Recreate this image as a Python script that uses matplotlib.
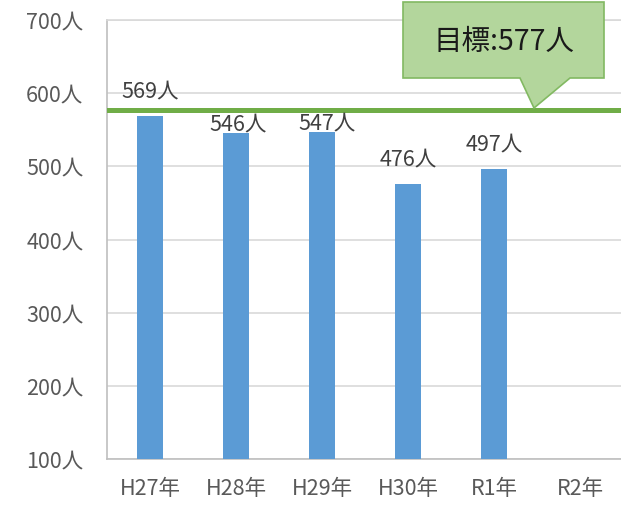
import matplotlib
matplotlib.use("Agg")
import matplotlib.pyplot as plt
from matplotlib.patches import Polygon

plt.rcParams['font.family'] = ['Noto Sans CJK JP', 'DejaVu Sans']

categories = ["H27年", "H28年", "H29年", "H30年", "R1年", "R2年"]
values = [569, 546, 547, 476, 497, None]
target = 577
target_label = "目標:577人"
y_ticks = [100, 200, 300, 400, 500, 600, 700]

W, H = 621, 505
fig = plt.figure(figsize=(W / 100, H / 100), dpi=100)
# axes in pixel coords: left 107, right 623, top 20, bottom 459
ax = fig.add_axes([107 / W, 1 - 459 / H, (623 - 107) / W, (459 - 20) / H])

xs = list(range(len(categories)))
ax.bar([x for x, v in zip(xs, values) if v is not None],
       [v - 100 for v in values if v is not None], bottom=100,
       width=0.31, color="#5b9bd5", zorder=3)

ax.set_xlim(-0.5, len(categories) - 0.5)
ax.set_ylim(100, 700)
ax.set_yticks(y_ticks)
ax.set_yticklabels([f"{t}人" for t in y_ticks])
ax.set_xticks(xs)
ax.set_xticklabels(categories)
ax.tick_params(axis='both', length=0, labelsize=15.5, colors="#595959")
ax.tick_params(axis='y', pad=17)
ax.tick_params(axis='x', pad=14)

ax.grid(axis='y', color="#d9d9d9", linewidth=1.2, zorder=0)
ax.spines['right'].set_visible(False)
ax.spines['top'].set_color("#d9d9d9")
ax.spines['top'].set_linewidth(1.2)
ax.spines['left'].set_color("#bfbfbf")
ax.spines['bottom'].set_color("#bfbfbf")
ax.spines['left'].set_linewidth(1.2)
ax.spines['bottom'].set_linewidth(1.2)

# target line
ax.axhline(target, color="#70ad47", linewidth=3.6, zorder=4)

# value labels (pixel offsets)
dx = [0, 2, 5, 0, 0, 0]
dy = [18.5, 2.7, 2.7, 18.5, 18.5, 0]
for x, v, ox, oy in zip(xs, values, dx, dy):
    if v is None:
        continue
    ax.annotate(f"{v}人", (x, v), xytext=(ox * 0.72, oy * 0.72),
                textcoords='offset points', ha='center', va='baseline',
                fontsize=15.5, color="#404040", zorder=5)

# callout box (figure pixel coordinates)
pts = [(403, 2), (604, 2), (604, 78), (570, 78), (534, 108), (520, 78), (403, 78)]
poly = Polygon([(px / W, 1 - py / H) for px, py in pts], closed=True,
               transform=fig.transFigure, facecolor="#b3d69c",
               edgecolor="#82b962", linewidth=1.2, zorder=10)
fig.patches.append(poly)
fig.text(504 / W, 1 - 42 / H, target_label, ha='center', va='center',
         fontsize=20.5, color="#1a1a1a", zorder=11)

fig.savefig("out.png", dpi=100)
